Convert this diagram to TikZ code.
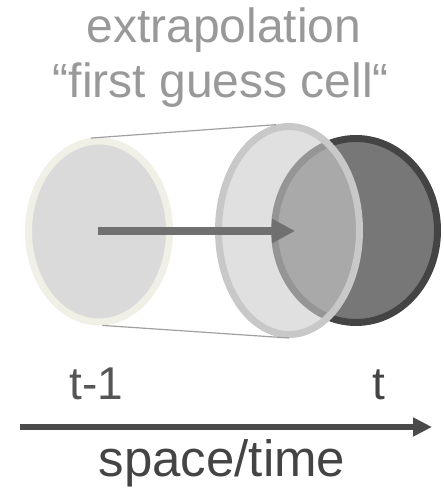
\documentclass[tikz,border=0pt]{standalone}
\usepackage{fontspec}
\setmainfont{Liberation Sans}
\usetikzlibrary{shapes.geometric,arrows.meta}
\definecolor{lefill}{HTML}{DADADA}
\definecolor{leborder}{HTML}{F0F0E6}
\definecolor{dkfill}{HTML}{777777}
\definecolor{dkborder}{HTML}{444444}
\definecolor{mdfill}{HTML}{CBCBCB}
\definecolor{mdborder}{HTML}{C8C8C8}
\definecolor{tangent}{HTML}{A0A0A0}
\definecolor{motion}{HTML}{707070}
\definecolor{axiscol}{HTML}{4A4A4A}
\definecolor{titlecol}{HTML}{999999}
\definecolor{labcol}{HTML}{555555}
\begin{document}
\begin{tikzpicture}[x=1pt,y=1pt,
  cell/.style={ellipse, inner sep=0pt, line width=7pt},
  bigtext/.style={font=\fontsize{46}{55}\selectfont, anchor=base, inner sep=0pt},
  titletext/.style={font=\fontsize{48}{55}\selectfont, anchor=base, inner sep=0pt, text=titlecol},
  axistext/.style={font=\fontsize{51}{60}\selectfont, anchor=base, inner sep=0pt, text=dkborder}]
\useasboundingbox (0,0) rectangle (444,491);
% cells
\node[cell, draw=leborder, fill=lefill, minimum width=141pt, minimum height=181pt] (prev) at (99,259.5) {};
\node[cell, draw=dkborder, fill=dkfill, minimum width=163pt, minimum height=184pt] (curr) at (356,260.5) {};
\node[cell, draw=mdborder, fill=mdfill, fill opacity=0.6, minimum width=141pt, minimum height=208pt] (guess) at (289,260.5) {};
% tangent lines
\draw[tangent, line width=1.2pt] (prev.95) -- (guess.97);
\draw[tangent, line width=1.2pt] (prev.272) -- (guess.270.5);
% motion arrow
\coordinate (mstart) at (98,260);
\coordinate (mend) at (295,260);
\draw[motion, line width=8pt, -{Triangle[length=23pt,width=23pt]}] (mstart) -- (mend);
% axis
\coordinate (astart) at (20,64);
\coordinate (aend) at (432,64);
\draw[axiscol, line width=6pt, -{Triangle[length=19pt,width=18pt]}] (astart) -- (aend);
% texts
\node[titletext] (t1) at (224,448) {extrapolation};
\node[titletext] (t2) at (221,393) {“first guess cell“};
\node[bigtext, text=labcol] (lprev) at (96.5,92) {t-1};
\node[bigtext, text=dkborder] (lcurr) at (378.5,92) {t};
\node[axistext] (lax) at (222,14) {space/time};
\end{tikzpicture}
\end{document}
